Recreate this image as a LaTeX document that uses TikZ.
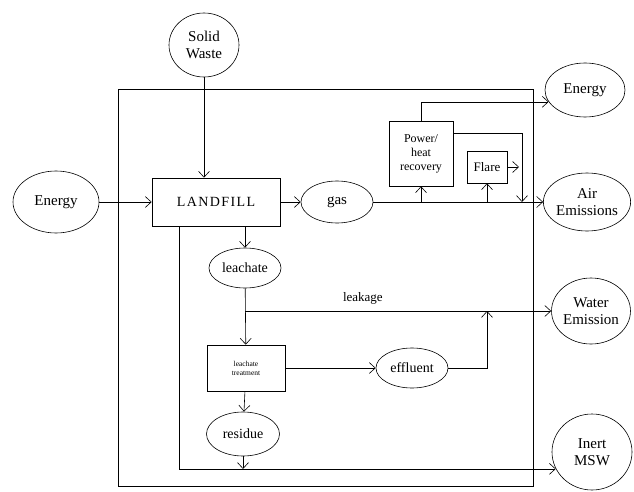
\documentclass[tikz,border=0pt]{standalone}
\usepackage{fontspec}
\setmainfont{Liberation Serif}
\usetikzlibrary{shapes.geometric,arrows.meta}

\begin{document}
\begin{tikzpicture}[x=1pt,y=-1pt,line width=0.6pt,
        >={Straight Barb[length=6pt,width=11pt]},
        flow/.style={ellipse,draw,inner sep=0pt,align=center,font=\fontsize{15}{17}\selectfont},
        unit/.style={rectangle,draw,inner sep=1pt,align=center,font=\fontsize{13}{14}\selectfont}]
        \useasboundingbox (0,0) rectangle (634,492);
        \node[draw,inner sep=0pt,minimum width=415pt,minimum height=397pt] (bound) at (325.5,287.5) {};

        \node[flow,minimum width=70pt,minimum height=64pt] (sw) at (204,45) {Solid\\Waste};
        \node[flow,minimum width=86pt,minimum height=62pt] (ein) at (56,202) {Energy};
        \node[unit,minimum width=128pt,minimum height=48pt,font=\fontsize{14}{16}\selectfont] (lf) at (216,202) {\addfontfeature{LetterSpace=10}LANDFILL};
        \node[flow,minimum width=72pt,minimum height=42pt] (gas) at (337,202) {gas};
        \node[flow,minimum width=72pt,minimum height=40pt,font=\fontsize{14}{16}\selectfont] (leachate) at (245,268) {leachate};
        \node[unit,minimum width=78pt,minimum height=46pt,font=\fontsize{7.5}{9}\selectfont] (trt) at (246,368) {leachate\\treatment};
        \node[flow,minimum width=72pt,minimum height=40pt,font=\fontsize{14}{16}\selectfont] (eff) at (412,368) {effluent};
        \node[flow,minimum width=73pt,minimum height=44pt,font=\fontsize{14}{16}\selectfont] (res) at (243,434) {residue};
        \node[unit,minimum width=64pt,minimum height=65pt,font=\fontsize{12}{14}\selectfont] (pw) at (421,153.5) {Power/\\heat\\recovery};
        \node[unit,minimum width=40pt,minimum height=32pt] (flare) at (487,167) {Flare};
        \node[flow,minimum width=80pt,minimum height=54pt] (eout) at (585,90) {Energy};
        \node[flow,minimum width=84pt,minimum height=58pt] (air) at (587,202) {Air\\Emissions};
        \node[flow,minimum width=78pt,minimum height=66pt] (water) at (591,311) {Water\\Emission};
        \node[flow,minimum width=80pt,minimum height=76pt] (inert) at (592,452) {Inert\\MSW};

        \coordinate (leak) at (245,311);
        \coordinate (effup) at (487,311);
        \coordinate (flout) at (519,167);
        \coordinate (pwdn) at (522,202);
        \coordinate (lfout) at (179,226);
        \coordinate (resdn) at (243,469);

        \draw[->] (sw) -- (sw |- lf.north);
        \draw[->] (ein) -- (lf);
        \draw[->] (lf) -- (gas);
        \draw[->] (leachate |- lf.south) -- (leachate);
        \draw[->] (leachate) -- (trt);
        \draw[->] (trt) -- (eff);
        \draw[->] (trt) -- (res);
        \draw[->] (res) -- (resdn);
        \draw[->] (leak) -- node[above=3pt,pos=0.385,font=\fontsize{13}{14}\selectfont] (leaklbl) {leakage} (water);
        \draw[->] (eff) -| (effup);
        \draw[->] (gas) -- (air);
        \draw[->] (pw.south |- gas) -- (pw);
        \draw[->] (flare.south |- gas) -- (flare);
        \draw[->] (flare) -- (flout);
        \draw[->] ([yshift=20pt]pw.east) -| (pwdn);
        \draw[->] (pw) |- (eout.198);
        \draw[->] (lfout) |- (inert.205);
    \end{tikzpicture}
\end{document}
